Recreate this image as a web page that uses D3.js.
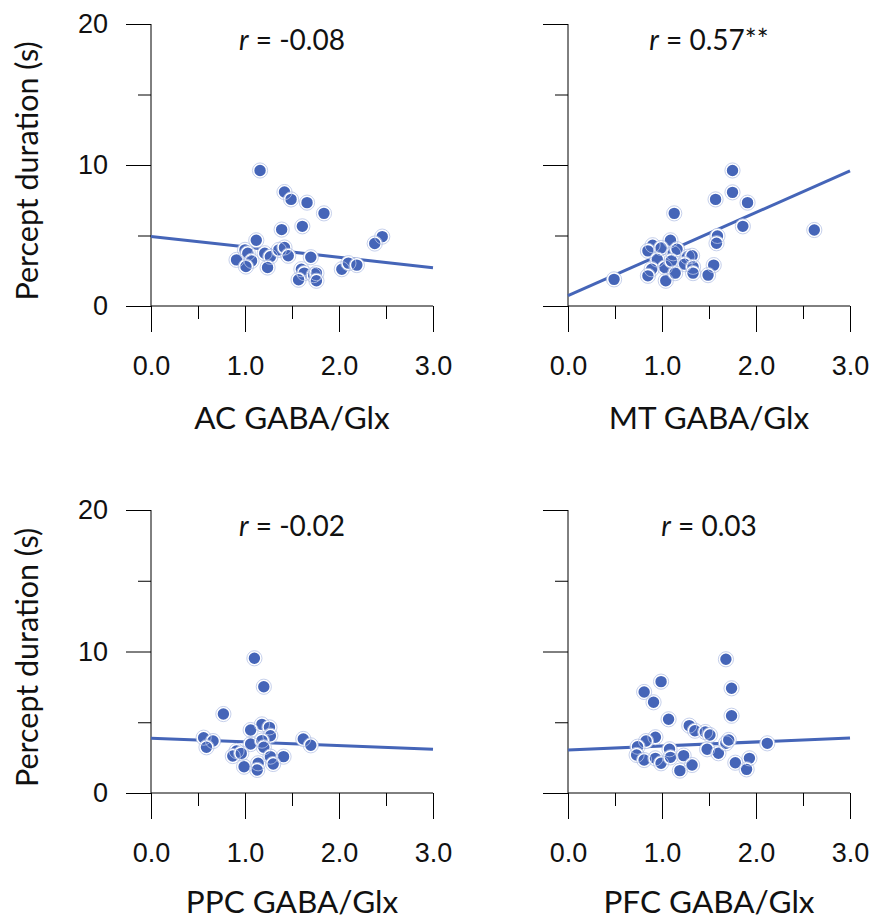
<!DOCTYPE html>
<html>
<head>
<meta charset="utf-8">
<script src="https://cdn.jsdelivr.net/npm/d3@7"></script>
<style>
  body { margin: 0; background: #fff; }
  svg { display: block; font-family: Lato, "Noto Sans", sans-serif; }
</style>
</head>
<body>
<div id="chart"></div>
<script>
// panel titles and stats
const regions = ["AC", "MT", "PPC", "PFC"];
const rLabels = ["-0.08", "0.57**", "-0.02", "0.03"];
// regression lines: [value at x=0, value at x=3]
const fitEnds = [[4.93, 2.72], [0.73, 9.58], [3.87, 3.09], [3.04, 3.89]];

const xTicks = [0, 1, 2, 3];
const xMinor = [0.5, 1.5, 2.5];
const yTicks = [0, 10, 20];
const yMinor = [5, 15];

// GABA/Glx ratio and percept duration (s) per participant
const acX = [1.16, 1.42, 1.49, 1.66, 1.84, 1.39, 1.61, 1.12, 2.46, 2.38, 1.0, 1.03, 0.91, 1.07, 1.01, 1.21, 1.27, 1.24, 1.36, 1.42, 1.46, 1.70, 1.60, 1.63, 1.57, 1.73, 1.76, 1.76, 2.03, 2.10, 2.19];
const acY = [9.61, 8.08, 7.56, 7.33, 6.57, 5.42, 5.65, 4.66, 4.92, 4.43, 3.98, 3.74, 3.27, 3.2, 2.8, 3.74, 3.49, 2.73, 3.98, 4.15, 3.56, 3.46, 2.61, 2.33, 1.86, 2.19, 2.33, 1.79, 2.61, 3.04, 2.9];

const mtX = [1.75, 1.75, 1.57, 1.91, 1.13, 1.86, 2.62, 1.59, 1.58, 1.09, 0.90, 0.85, 0.99, 0.95, 1.12, 1.16, 0.89, 0.85, 1.03, 1.04, 1.14, 1.27, 1.32, 1.24, 1.33, 1.33, 1.55, 1.49, 0.49, 1.10];
const mtY = [9.61, 8.06, 7.56, 7.33, 6.57, 5.65, 5.39, 4.97, 4.45, 4.66, 4.31, 3.91, 4.12, 3.30, 3.74, 4.03, 2.61, 2.14, 2.73, 1.79, 2.33, 3.49, 3.56, 2.97, 2.78, 2.33, 2.90, 2.19, 1.89, 3.20];

const ppcX = [1.10, 1.20, 0.77, 1.18, 1.26, 1.06, 1.27, 0.56, 0.66, 0.59, 1.06, 1.18, 1.20, 1.62, 1.70, 0.91, 0.87, 0.96, 1.27, 1.41, 1.30, 0.99, 1.14, 1.13];
const ppcY = [9.52, 7.51, 5.58, 4.85, 4.64, 4.45, 4.05, 3.91, 3.67, 3.23, 3.46, 3.70, 3.23, 3.82, 3.37, 2.97, 2.61, 2.80, 2.57, 2.57, 2.05, 1.86, 2.10, 1.63];

const pfcX = [1.68, 1.74, 0.99, 0.81, 0.91, 1.74, 1.07, 1.29, 1.35, 1.46, 1.51, 0.93, 0.83, 0.74, 0.73, 0.81, 0.93, 0.99, 1.08, 1.09, 1.23, 1.19, 1.32, 1.48, 1.60, 1.68, 1.71, 1.78, 1.93, 1.90, 2.12];
const pfcY = [9.45, 7.40, 7.87, 7.14, 6.41, 5.46, 5.21, 4.76, 4.40, 4.31, 4.10, 3.94, 3.67, 3.27, 2.69, 2.33, 2.45, 2.10, 3.09, 2.52, 2.64, 1.58, 1.98, 3.09, 2.81, 3.51, 3.75, 2.14, 2.45, 1.67, 3.51];

const seriesX = [acX, mtX, ppcX, pfcX];
const seriesY = [acY, mtY, ppcY, pfcY];

const width = 871, height = 921;
const blue = "#4565b8";

const svg = d3.select("#chart").append("svg")
  .attr("width", width)
  .attr("height", height);

// panel frames: left edge, right edge, top (20), bottom (0), title baseline offset
const panels = [
  { x0: 151, x1: 433, y0: 24, y1: 306, t: 123 },
  { x0: 568, x1: 850, y0: 24, y1: 306, t: 123 },
  { x0: 151, x1: 433, y0: 510, y1: 793, t: 120 },
  { x0: 568, x1: 850, y0: 510, y1: 793, t: 120 },
];

panels.forEach((p, i) => {
  const x = d3.scaleLinear().domain([0, 3]).range([p.x0, p.x1]);
  const y = d3.scaleLinear().domain([0, 20]).range([p.y1, p.y0]);
  const g = svg.append("g");

  // y axis (major ticks long, minor short)
  g.append("g")
    .attr("transform", `translate(${p.x0},0)`)
    .call(d3.axisLeft(y).tickValues(yTicks).tickSize(25).tickFormat(i % 2 === 0 ? d3.format("d") : ""))
    .call((a) => a.select(".domain").remove())
    .call((a) => a.selectAll("text").attr("x", -43).attr("font-size", 27).attr("fill", "#111"));
  g.append("g")
    .attr("transform", `translate(${p.x0},0)`)
    .call(d3.axisLeft(y).tickValues(yMinor).tickSize(13).tickFormat(""))
    .call((a) => a.select(".domain").remove());
  g.append("line")
    .attr("x1", p.x0).attr("x2", p.x0)
    .attr("y1", y(20)).attr("y2", y(0))
    .attr("stroke", "#000");

  // x axis
  g.append("g")
    .attr("transform", `translate(0,${p.y1})`)
    .call(d3.axisBottom(x).tickValues(xTicks).tickSize(26).tickFormat(d3.format(".1f")))
    .call((a) => a.select(".domain").remove())
    .call((a) => a.selectAll("text").attr("y", 0).attr("dy", 69).attr("font-size", 27).attr("fill", "#111"));
  g.append("g")
    .attr("transform", `translate(0,${p.y1})`)
    .call(d3.axisBottom(x).tickValues(xMinor).tickSize(13).tickFormat(""))
    .call((a) => a.select(".domain").remove());
  g.append("line")
    .attr("x1", p.x0).attr("x2", p.x1)
    .attr("y1", p.y1).attr("y2", p.y1)
    .attr("stroke", "#000");

  g.selectAll(".tick line").attr("stroke", "#000");

  // axis title
  g.append("text")
    .attr("x", (p.x0 + p.x1) / 2)
    .attr("y", p.y1 + p.t)
    .attr("text-anchor", "middle")
    .attr("font-size", 31.5)
    .attr("fill", "#111")
    .text(`${regions[i]} GABA/Glx`);

  if (i % 2 === 0) {
    g.append("text")
      .attr("transform", `translate(38,${(p.y0 + p.y1) / 2 + 6}) rotate(-90)`)
      .attr("text-anchor", "middle")
      .attr("font-size", 30.5)
      .attr("fill", "#111")
      .text("Percept duration (s)");
  }

  // correlation label
  const r = g.append("text")
    .attr("x", (p.x0 + p.x1) / 2)
    .attr("y", p.y0 + 26)
    .attr("text-anchor", "middle")
    .attr("font-size", 28)
    .attr("fill", "#111");
  r.append("tspan").attr("font-style", "italic").text("r");
  r.append("tspan").text(` = ${rLabels[i]}`);

  // regression line
  g.append("line")
    .attr("x1", x(0)).attr("y1", y(fitEnds[i][0]))
    .attr("x2", x(3)).attr("y2", y(fitEnds[i][1]))
    .attr("stroke", blue)
    .attr("stroke-width", 3);

  // points
  const pts = seriesX[i].map((v, j) => [v, seriesY[i][j]]);
  g.append("g")
    .selectAll("circle")
    .data(pts)
    .enter()
    .append("circle")
    .attr("cx", (d) => x(d[0]))
    .attr("cy", (d) => y(d[1]))
    .attr("r", 6.5)
    .attr("fill", blue)
    .attr("stroke", "#fff")
    .attr("stroke-width", 1.6);
  g.append("g")
    .selectAll("circle")
    .data(pts)
    .enter()
    .append("circle")
    .attr("cx", (d) => x(d[0]))
    .attr("cy", (d) => y(d[1]))
    .attr("r", 7.6)
    .attr("fill", "none")
    .attr("stroke", "#b8c4e6")
    .attr("stroke-width", 0.8)
    .lower();
});
</script>
</body>
</html>
